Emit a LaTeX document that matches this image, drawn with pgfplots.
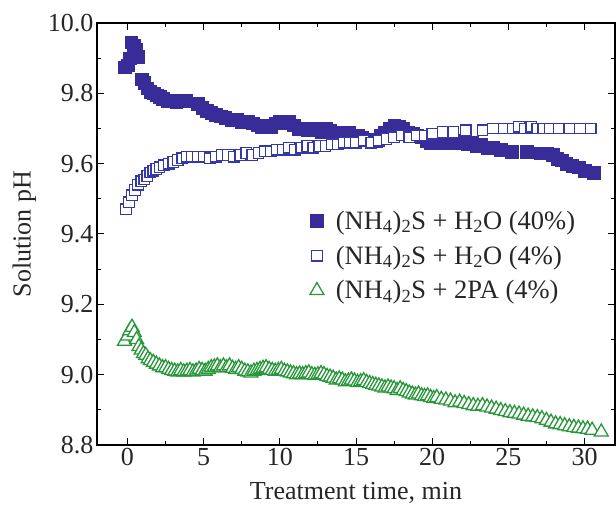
\documentclass[border=0pt]{standalone}
\usepackage{fontspec}
\setmainfont{Liberation Serif}
\usepackage{pgfplots}
\pgfplotsset{compat=1.18}

\definecolor{darkblue}{RGB}{56,44,152}
\definecolor{openblue}{RGB}{52,56,170}
\definecolor{tgreen}{RGB}{40,150,58}

% filled squares, (NH4)2S + H2O (40%)
\pgfplotstableread{
t ph
-0.2 9.875
0.0 9.880
0.15 9.900
0.25 9.945
0.4 9.935
0.55 9.925
0.7 9.905
0.95 9.840
1.1 9.830
1.3 9.815
1.5 9.805
1.7 9.800
1.9 9.795
2.1 9.790
2.3 9.785
2.6 9.780
2.9 9.780
3.2 9.775
3.5 9.780
3.8 9.780
4.6 9.770
4.9 9.760
5.2 9.750
5.5 9.745
5.8 9.740
6.1 9.735
6.4 9.730
6.8 9.725
7.2 9.725
7.5 9.720
7.9 9.720
8.2 9.715
8.5 9.710
8.8 9.705
9.1 9.710
9.4 9.705
9.7 9.715
10.0 9.720
10.3 9.715
10.6 9.720
10.9 9.710
11.2 9.700
11.5 9.700
11.8 9.695
12.1 9.700
12.4 9.695
12.7 9.690
13.0 9.700
13.3 9.695
13.6 9.690
13.9 9.690
14.2 9.685
14.5 9.690
14.8 9.680
15.1 9.680
15.4 9.675
15.7 9.670
16.0 9.665
16.3 9.665
16.6 9.680
16.9 9.690
17.2 9.700
17.5 9.710
17.8 9.705
18.1 9.700
18.4 9.690
18.7 9.685
19.0 9.680
19.3 9.675
19.6 9.665
19.9 9.660
20.2 9.660
20.5 9.665
20.8 9.660
21.1 9.660
21.4 9.665
21.7 9.660
22.0 9.660
22.3 9.655
22.6 9.660
22.9 9.650
23.2 9.655
23.6 9.645
24.0 9.645
24.5 9.640
25.2 9.635
26.2 9.635
27.1 9.630
27.5 9.630
27.9 9.625
28.2 9.615
28.5 9.610
28.8 9.600
29.2 9.595
29.6 9.590
30.0 9.580
30.6 9.575
}\fortyw

% open squares, (NH4)2S + H2O (4%)
\pgfplotstableread{
t ph
-0.1 9.470
0.1 9.490
0.3 9.510
0.5 9.525
0.7 9.540
0.9 9.550
1.1 9.555
1.3 9.565
1.5 9.575
1.7 9.580
1.9 9.585
2.1 9.590
2.4 9.595
2.7 9.600
3.0 9.605
3.3 9.610
3.6 9.615
3.9 9.620
4.2 9.620
4.6 9.620
5.0 9.620
5.4 9.615
5.8 9.620
6.2 9.625
6.6 9.625
7.0 9.620
7.4 9.625
7.8 9.630
8.2 9.625
8.6 9.630
9.0 9.635
9.4 9.635
9.8 9.640
10.2 9.640
10.6 9.645
11.0 9.640
11.4 9.645
11.8 9.650
12.2 9.645
12.6 9.650
13.0 9.650
13.4 9.655
13.8 9.655
14.2 9.660
14.6 9.660
15.0 9.660
15.5 9.665
16.0 9.660
16.5 9.665
17.0 9.670
17.5 9.675
18.0 9.680
18.5 9.675
19.0 9.680
19.5 9.680
20.0 9.685
20.7 9.690
21.4 9.690
22.2 9.695
23.3 9.695
24.0 9.700
24.7 9.700
25.3 9.700
25.7 9.705
26.1 9.700
26.5 9.705
26.9 9.700
27.3 9.700
27.7 9.700
28.3 9.700
29.0 9.700
29.7 9.700
30.4 9.700
}\fourw

% open triangles, (NH4)2S + 2PA (4%)
\pgfplotstableread{
t ph
-0.2 9.095
0.0 9.110
0.15 9.125
0.3 9.135
0.45 9.120
0.6 9.100
0.75 9.080
0.9 9.070
1.05 9.060
1.2 9.055
1.35 9.045
1.5 9.040
1.7 9.035
1.9 9.030
2.1 9.025
2.3 9.020
2.5 9.020
2.7 9.015
2.9 9.012
3.1 9.010
3.3 9.008
3.5 9.012
3.7 9.008
3.9 9.010
4.1 9.012
4.3 9.008
4.5 9.010
4.7 9.015
4.9 9.012
5.1 9.010
5.3 9.015
5.5 9.020
5.7 9.022
5.9 9.025
6.1 9.020
6.3 9.025
6.5 9.020
6.7 9.025
6.9 9.018
7.1 9.015
7.3 9.020
7.5 9.015
7.7 9.010
7.9 9.008
8.1 9.005
8.3 9.010
8.5 9.012
8.7 9.015
8.9 9.018
9.1 9.020
9.3 9.015
9.5 9.012
9.7 9.010
9.9 9.012
10.1 9.015
10.3 9.010
10.5 9.008
10.7 9.005
10.9 9.003
11.1 9.000
11.3 9.002
11.5 9.000
11.7 9.003
11.9 9.005
12.1 9.000
12.3 8.998
12.5 9.000
12.7 9.003
12.9 9.000
13.1 8.995
13.3 8.993
13.5 8.990
13.7 8.985
13.9 8.988
14.1 8.985
14.3 8.980
14.5 8.982
14.7 8.985
14.9 8.982
15.1 8.978
15.3 8.980
15.5 8.983
15.7 8.978
15.9 8.975
16.1 8.972
16.3 8.970
16.5 8.968
16.7 8.965
16.9 8.962
17.1 8.965
17.3 8.962
17.5 8.960
17.7 8.955
17.9 8.960
18.1 8.955
18.3 8.952
18.5 8.948
18.7 8.945
18.9 8.942
19.1 8.945
19.3 8.940
19.5 8.938
19.7 8.940
19.9 8.935
20.1 8.932
20.3 8.935
20.6 8.930
20.9 8.928
21.2 8.925
21.5 8.920
21.8 8.922
22.1 8.918
22.4 8.915
22.7 8.912
23.0 8.910
23.3 8.912
23.6 8.908
23.9 8.905
24.2 8.902
24.5 8.898
24.8 8.895
25.1 8.892
25.4 8.890
25.7 8.888
26.0 8.885
26.3 8.882
26.6 8.880
26.9 8.878
27.2 8.875
27.5 8.870
27.8 8.865
28.1 8.860
28.4 8.858
28.7 8.855
29.0 8.852
29.3 8.850
29.6 8.848
29.9 8.846
30.2 8.845
30.5 8.842
31.1 8.837
}\twopa

\begin{document}
\begin{tikzpicture}
\useasboundingbox (-97pt,-63pt) rectangle (519pt,445pt);
\begin{axis}[
  scale only axis,
  width=518pt, height=422pt,
  xmin=-2, xmax=32,
  ymin=8.8, ymax=10.0,
  xtick={0,5,10,15,20,25,30},
  ytick={8.8,9.0,9.2,9.4,9.6,9.8,10.0},
  minor x tick num=1, minor y tick num=1,
  tick align=inside,
  major tick length=7pt, minor tick length=4pt,
  every tick/.style={black, line width=1pt},
  axis line style={black, line width=1.5pt},
  /pgf/number format/assume math mode=true,
  yticklabel style={/pgf/number format/.cd, fixed, fixed zerofill, precision=1},
  tick label style={font=\fontsize{26}{30}\selectfont, text=black!85},
  label style={font=\fontsize{26}{30}\selectfont, text=black!85},
  xlabel={Treatment time, min},
  ylabel={Solution pH},
  xlabel style={at={(axis description cs:0.5,-0.113)}, anchor=center},
  ylabel style={at={(axis description cs:-0.14,0.5)}, anchor=center},
  legend style={draw=none, fill=none, at={(axis description cs:0.405,0.565)},
    anchor=north west, font=\fontsize{26.5}{30}\selectfont, text=black!85,
    row sep=11pt, column sep=10pt},
  legend cell align=left,
]
\addplot[only marks, mark=square*, mark size=6.3pt,
  mark options={draw=darkblue, fill=darkblue, line width=0.3pt}]
  table[x=t, y=ph] {\fortyw};
\addlegendentry{(NH\textsubscript{4})\textsubscript{2}S + H\textsubscript{2}O (40\%)}

\addplot[only marks, mark=square*, mark size=5.3pt,
  mark options={draw=openblue, fill=white, line width=1.3pt}]
  table[x=t, y=ph] {\fourw};
\addlegendentry{(NH\textsubscript{4})\textsubscript{2}S + H\textsubscript{2}O (4\%)}

\addplot[only marks, mark=triangle*, mark size=8pt,
  mark options={draw=tgreen, fill=white, line width=1.3pt}]
  table[x=t, y=ph] {\twopa};
\addlegendentry{(NH\textsubscript{4})\textsubscript{2}S + 2PA (4\%)}
\end{axis}
\end{tikzpicture}
\end{document}
